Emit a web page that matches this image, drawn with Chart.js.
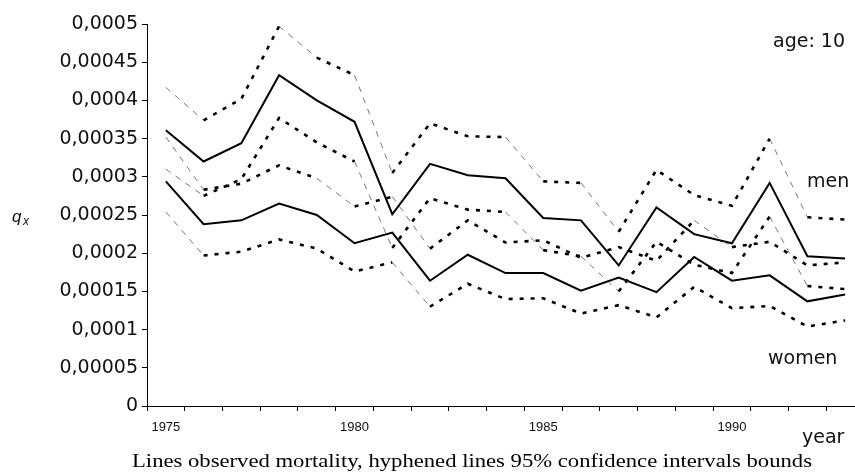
<!DOCTYPE html>
<html>
<head>
<meta charset="utf-8">
<script src="https://cdn.jsdelivr.net/npm/chart.js@4/dist/chart.umd.min.js"></script>
<style>
  html, body { margin: 0; padding: 0; background: #fff; overflow: hidden; width: 855px; height: 472px; }
  #wrap { position: absolute; left: 0; top: 0; width: 870px; height: 472px; }
</style>
</head>
<body>
<div id="wrap"><canvas id="c" width="870" height="472"></canvas></div>
<script>
// Observed mortality at age 10 and 95% confidence bounds, 1975-1993
const years = [1975, 1976, 1977, 1978, 1979, 1980, 1981, 1982, 1983, 1984,
               1985, 1986, 1987, 1988, 1989, 1990, 1991, 1992, 1993];

const menObserved = [0.000361, 0.000320, 0.000344, 0.000433, 0.000400, 0.000372, 0.000251, 0.000317, 0.000302, 0.000298,
                     0.000246, 0.000243, 0.000184, 0.000260, 0.000225, 0.000213, 0.000292, 0.000196, 0.000193];
const menUpper    = [0.000417, 0.000374, 0.000402, 0.000497, 0.000456, 0.000433, 0.000305, 0.000370, 0.000353, 0.000352,
                     0.000294, 0.000292, 0.000228, 0.000309, 0.000276, 0.000262, 0.000350, 0.000247, 0.000244];
const menLower    = [0.000310, 0.000275, 0.000297, 0.000377, 0.000345, 0.000320, 0.000207, 0.000272, 0.000257, 0.000254,
                     0.000204, 0.000196, 0.000150, 0.000215, 0.000185, 0.000174, 0.000248, 0.000157, 0.000153];

const womenObserved = [0.000294, 0.000238, 0.000243, 0.000265, 0.000250, 0.000213, 0.000227, 0.000164, 0.000198, 0.000174,
                       0.000174, 0.000151, 0.000168, 0.000149, 0.000195, 0.000164, 0.000171, 0.000137, 0.000146];
const womenUpper    = [0.000352, 0.000283, 0.000291, 0.000315, 0.000298, 0.000261, 0.000274, 0.000206, 0.000243, 0.000214,
                       0.000217, 0.000194, 0.000208, 0.000190, 0.000243, 0.000208, 0.000215, 0.000184, 0.000188];
const womenLower    = [0.000254, 0.000197, 0.000202, 0.000218, 0.000206, 0.000176, 0.000188, 0.000130, 0.000160, 0.000140,
                       0.000141, 0.000121, 0.000132, 0.000116, 0.000156, 0.000128, 0.000131, 0.000104, 0.000112];

const labeledYears = [1975, 1980, 1985, 1990];
const yTicks = { min: 0, max: 0.0005, step: 0.00005 };
const caption = 'Lines observed mortality, hyphened lines 95% confidence intervals bounds';

// Bound lines: steeply falling segments are drawn as fine hyphens, the rest as heavy dots
const STEEP = 0.7;
const isSteep = c => (c.p1.y - c.p0.y) / Math.max(1, c.p1.x - c.p0.x) > STEEP;

function boundLine(label, data) {
  return {
    label, data,
    borderColor: '#000',
    borderWidth: 2.6,
    borderDash: [4, 7],
    pointRadius: 0,
    tension: 0,
    fill: false,
    segment: {
      borderWidth: c => isSteep(c) ? 0.8 : 2.6,
      borderDash: c => isSteep(c) ? [6, 6] : [4, 7],
      borderColor: c => isSteep(c) ? '#555' : '#000'
    }
  };
}
function observedLine(label, data) {
  return { label, data, borderColor: '#000', borderWidth: 2, pointRadius: 0, tension: 0, fill: false };
}

const annotations = {
  id: 'annotations',
  afterDraw(chart) {
    const ctx = chart.ctx;
    ctx.save();
    ctx.fillStyle = '#111';
    ctx.textBaseline = 'alphabetic';

    ctx.font = '19px "DejaVu Sans", sans-serif';
    ctx.textAlign = 'right';
    ctx.fillText('age: 10', 845, 47);
    ctx.textAlign = 'left';
    ctx.fillText('men', 807, 187);
    ctx.fillText('women', 768, 364);
    ctx.fillText('year', 802, 443);

    // q subscript x
    ctx.font = 'italic 17px "Liberation Sans", Arial, sans-serif';
    ctx.fillText('q', 12, 222);
    ctx.font = 'italic 12px "Liberation Sans", Arial, sans-serif';
    ctx.fillText('x', 23, 225);

    // caption, set in a widened serif face
    ctx.font = '18px "Liberation Serif", "Times New Roman", serif';
    ctx.fillStyle = '#000';
    ctx.textAlign = 'center';
    const natural = ctx.measureText(caption).width;
    const sx = 680 / natural;
    ctx.translate(472, 467);
    ctx.scale(sx, 1);
    ctx.fillText(caption, 0, 0);
    ctx.restore();
  }
};

new Chart(document.getElementById('c'), {
  type: 'line',
  data: {
    labels: years.map(String),
    datasets: [
      boundLine('men upper bound', menUpper),
      boundLine('men lower bound', menLower),
      boundLine('women upper bound', womenUpper),
      boundLine('women lower bound', womenLower),
      observedLine('men', menObserved),
      observedLine('women', womenObserved)
    ]
  },
  options: {
    responsive: false,
    animation: false,
    devicePixelRatio: 1,
    layout: { padding: { top: 24, right: 6, bottom: 0, left: 0 } },
    plugins: { legend: { display: false }, tooltip: { enabled: false } },
    scales: {
      x: {
        type: 'category',
        offset: true,
        afterFit(s) { s.height = 66; },
        grid: { offset: true, drawOnChartArea: false, drawTicks: true, tickLength: 5, color: '#000', lineWidth: 1 },
        border: { display: true, color: '#000', width: 1 },
        ticks: {
          autoSkip: false, maxRotation: 0, minRotation: 0, padding: 9,
          color: '#111',
          font: { family: '"Liberation Sans", Arial, sans-serif', size: 13 },
          callback: (v, i) => labeledYears.includes(years[i]) ? String(years[i]) : ''
        }
      },
      y: {
        min: yTicks.min, max: yTicks.max,
        afterFit(s) { s.width = 147; },
        grid: { drawOnChartArea: false, drawTicks: true, tickLength: 5, color: '#000', lineWidth: 1 },
        border: { display: true, color: '#000', width: 1 },
        ticks: {
          stepSize: yTicks.step, padding: 4, color: '#111',
          font: { family: '"DejaVu Sans", sans-serif', size: 19 },
          callback: v => parseFloat(Number(v).toFixed(6)).toString().replace('.', ',')
        }
      }
    }
  },
  plugins: [annotations]
});
</script>
</body>
</html>
